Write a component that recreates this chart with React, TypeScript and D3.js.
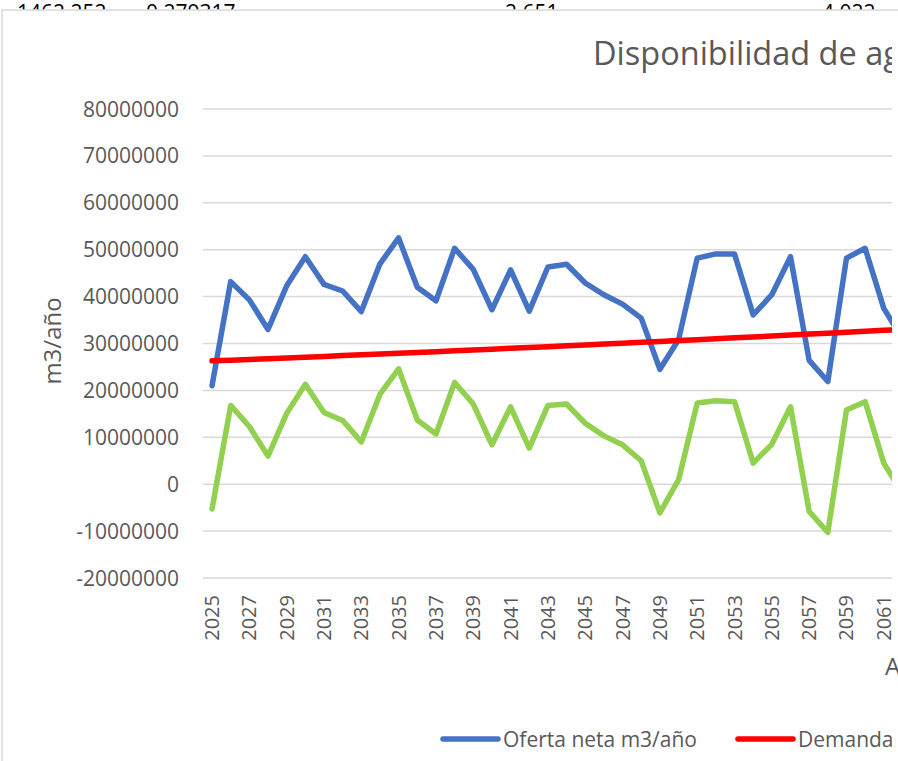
import React from "react";
import * as d3 from "d3";

const years: number[] = [
  2025, 2026, 2027, 2028, 2029, 2030, 2031, 2032, 2033, 2034, 2035, 2036, 2037,
  2038, 2039, 2040, 2041, 2042, 2043, 2044, 2045, 2046, 2047, 2048, 2049, 2050,
  2051, 2052, 2053, 2054, 2055, 2056, 2057, 2058, 2059, 2060, 2061, 2062,
];

// Oferta neta m3/año (millions)
const oferta: number[] = [
  21.0, 43.2, 39.3, 33.0, 42.3, 48.5, 42.6, 41.2, 36.8, 47.0, 52.5, 42.0, 39.1,
  50.3, 45.8, 37.2, 45.7, 36.9, 46.3, 46.9, 42.9, 40.4, 38.4, 35.4, 24.5, 30.8,
  48.2, 49.1, 49.1, 36.1, 40.4, 48.5, 26.4, 21.9, 48.2, 50.3, 37.5, 31.0,
];

// Demanda (millions)
const demanda: number[] = [
  26.3, 26.45, 26.61, 26.77, 26.93, 27.09, 27.25, 27.42, 27.58, 27.75, 27.92,
  28.09, 28.26, 28.44, 28.61, 28.79, 28.97, 29.15, 29.33, 29.51, 29.69, 29.88,
  30.06, 30.25, 30.44, 30.63, 30.82, 31.01, 31.21, 31.4, 31.6, 31.8, 32.0, 32.2,
  32.4, 32.6, 32.8, 33.0,
];

// Balance (millions)
const balance: number[] = [
  -5.3, 16.8, 12.3, 6.0, 15.1, 21.3, 15.3, 13.6, 9.0, 19.2, 24.6, 13.7, 10.7,
  21.7, 17.1, 8.4, 16.5, 7.7, 16.8, 17.1, 13.0, 10.3, 8.4, 5.0, -6.1, 0.9, 17.3,
  17.8, 17.6, 4.5, 8.5, 16.5, -5.8, -10.3, 15.8, 17.6, 4.5, -2.0,
];

const yTicks: number[] = [
  -20000000, -10000000, 0, 10000000, 20000000, 30000000, 40000000, 50000000,
  60000000, 70000000, 80000000,
];

const topCells: { text: string; x: number }[] = [
  { text: "1462.252", x: 17 },
  { text: "0.279317", x: 146 },
  { text: "2.651", x: 505 },
  { text: "4.022", x: 822 },
];

const title = "Disponibilidad de agua";
const yTitle = "m3/año";
const xTitle = "Año";
const legendItems = [
  { label: "Oferta neta m3/año", color: "#4472C4" },
  { label: "Demanda m3/año", color: "#FF0000" },
];

const FONT = "'Open Sans', 'Liberation Sans', sans-serif";
const GRAY = "#595959";

export default function App() {
  const W = 898;
  const H = 761;
  const plotLeft = 202.7;
  const step = 18.66;
  const clipRight = 892;

  const x = d3
    .scaleBand<number>()
    .domain(years)
    .range([plotLeft, plotLeft + step * years.length])
    .paddingInner(0)
    .paddingOuter(0);
  const cx = (yr: number) => (x(yr) as number) + x.bandwidth() / 2;

  const y = d3.scaleLinear().domain([-20000000, 80000000]).range([578, 109]);

  const mk = (arr: number[]) =>
    d3
      .line<number>()
      .x((_, i) => cx(years[i]))
      .y((v) => y(v * 1e6))(arr) as string;

  const series = [
    { vals: oferta, color: "#4472C4" },
    { vals: demanda, color: "#FF0000" },
    { vals: balance, color: "#92D050" },
  ];

  const xLabelYears = years.filter((yr) => (yr - 2025) % 2 === 0);

  return (
    <svg
      width={W}
      height={H}
      style={{ position: "absolute", left: 0, top: 0, background: "#fff" }}
      fontFamily={FONT}
    >
      <defs>
        <clipPath id="plotclip">
          <rect x={0} y={0} width={clipRight} height={H} />
        </clipPath>
      </defs>
      {topCells.map((c) => (
        <text key={c.text} x={c.x} y={20} fontSize={21} fill="#000">
          {c.text}
        </text>
      ))}
      <rect x={2} y={10} width={W + 10} height={H + 10} fill="#fff" stroke="#d9d9d9" strokeWidth={1.5} />

      <g clipPath="url(#plotclip)">
        <text x={593} y={65} fontSize={32.5} fill={GRAY}>
          {title}
        </text>
        {yTicks.map((t) => (
          <line key={t} x1={plotLeft} x2={W} y1={y(t)} y2={y(t)} stroke="#d9d9d9" strokeWidth={1.5} />
        ))}
        {series.map((s) => (
          <path
            key={s.color}
            d={mk(s.vals)}
            fill="none"
            stroke={s.color}
            strokeWidth={5.5}
            strokeLinejoin="round"
            strokeLinecap="round"
          />
        ))}
        {xLabelYears.map((yr) => (
          <text
            key={yr}
            transform={`translate(${cx(yr) + 7},595) rotate(-90)`}
            textAnchor="end"
            fontSize={20}
            fill={GRAY}
          >
            {yr}
          </text>
        ))}
        {legendItems.map((it, i) => {
          const lx = [443, 738][i];
          return (
            <g key={it.label}>
              <line x1={lx} x2={lx + 55} y1={739} y2={739} stroke={it.color} strokeWidth={5.5} strokeLinecap="round" />
              <text x={lx + 60} y={747} fontSize={21} fill={GRAY}>
                {it.label}
              </text>
            </g>
          );
        })}
      </g>

      {yTicks.map((t) => (
        <text key={t} x={179} y={y(t) + 7.5} textAnchor="end" fontSize={21} fill={GRAY}>
          {t}
        </text>
      ))}
      <text transform="translate(61,341) rotate(-90)" textAnchor="middle" fontSize={24} fill={GRAY}>
        {yTitle}
      </text>
      <text x={885} y={675} fontSize={24} fill={GRAY}>
        {xTitle}
      </text>
    </svg>
  );
}
